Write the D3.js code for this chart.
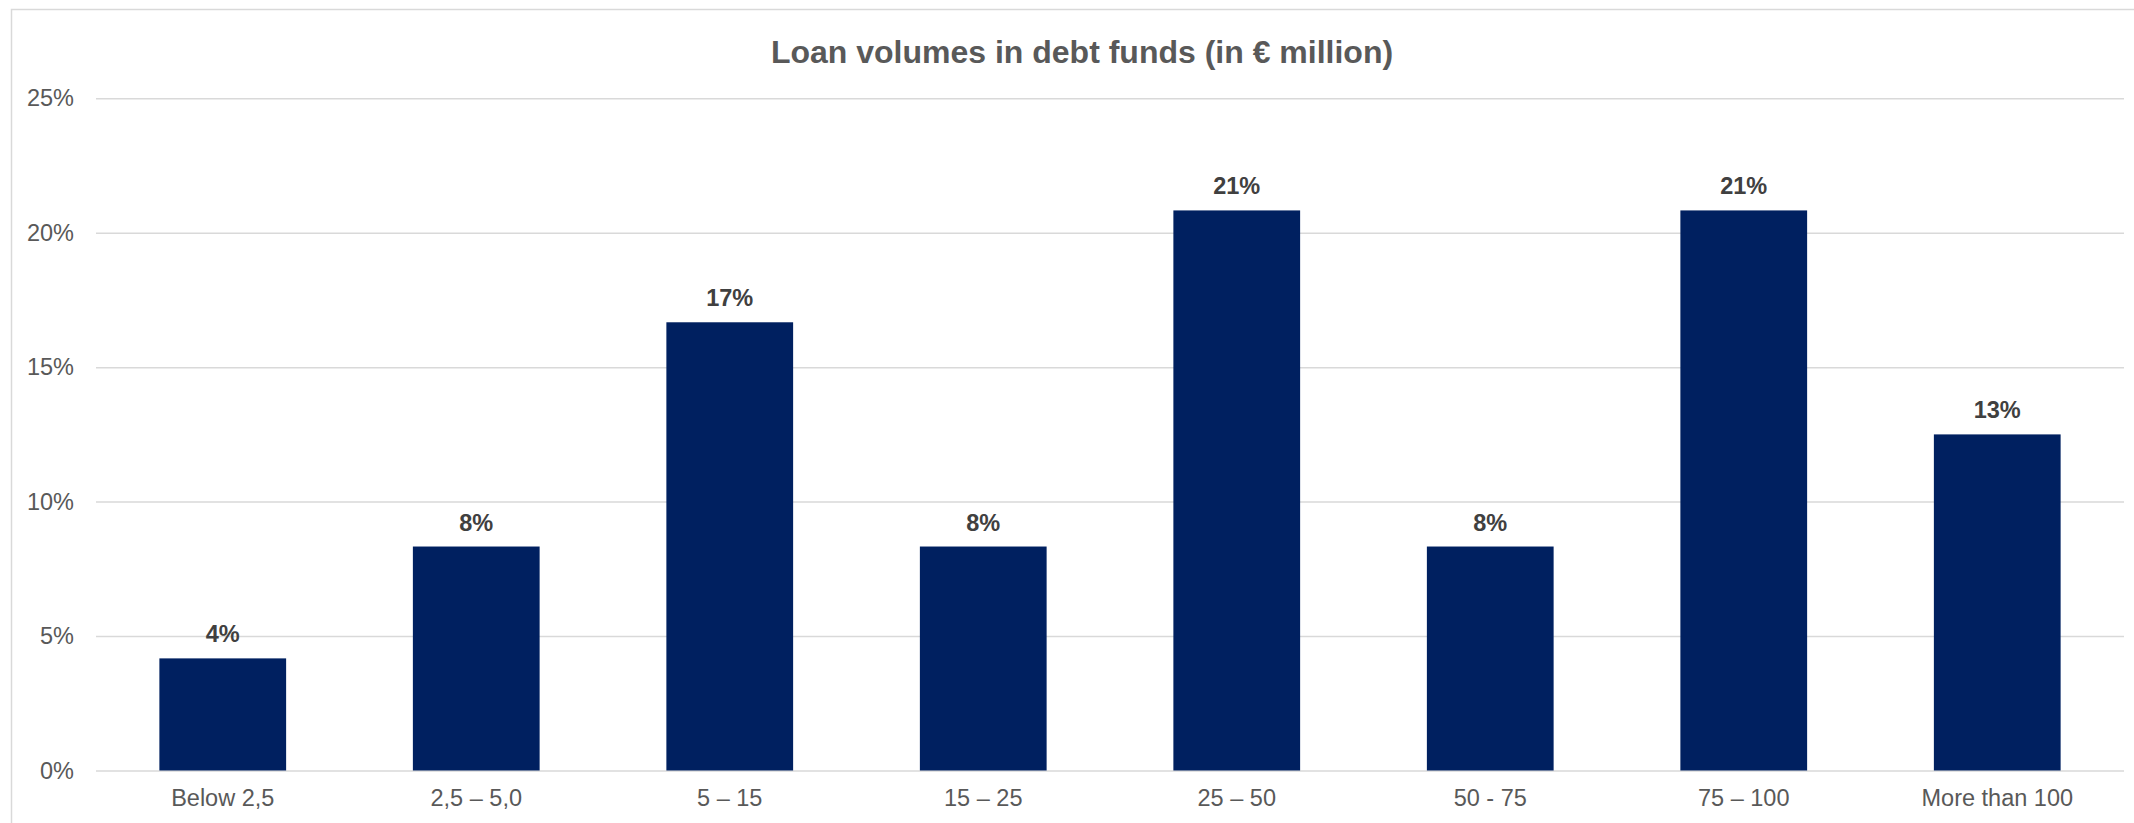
<!DOCTYPE html>
<html>
<head>
<meta charset="utf-8">
<script src="https://cdn.jsdelivr.net/npm/d3@7"></script>
<style>
  html, body { margin: 0; padding: 0; background: #ffffff; }
  svg { display: block; }
  text { font-family: "Liberation Sans", Arial, sans-serif; }
</style>
</head>
<body>
<svg id="chart" width="2134" height="823"></svg>
<script>
// Loan size buckets (€ million) and their share of loan volumes
const categories = ["Below 2,5", "2,5 – 5,0", "5 – 15", "15 – 25", "25 – 50", "50 - 75", "75 – 100", "More than 100"];
const shares = [0.0417, 0.0833, 0.1667, 0.0833, 0.2083, 0.0833, 0.2083, 0.125];
const yTicks = [0, 0.05, 0.10, 0.15, 0.20, 0.25];
const chartTitle = "Loan volumes in debt funds (in € million)";

const W = 2134, H = 823;
const margin = { left: 96, right: 2124, top: 98.3, bottom: 770.5 };

const svg = d3.select("#chart");

// outer chart frame
svg.append("rect")
  .attr("x", 11.5).attr("y", 9.5)
  .attr("width", W + 10).attr("height", H + 10)
  .attr("fill", "#ffffff")
  .attr("stroke", "#d9d9d9").attr("stroke-width", 1.5);

const x = d3.scaleBand()
  .domain(categories)
  .range([margin.left, margin.right])
  .paddingInner(0.5)
  .paddingOuter(0.25);

const y = d3.scaleLinear()
  .domain([0, 0.25])
  .range([margin.bottom, margin.top]);

// horizontal gridlines with percentage labels
const yAxis = d3.axisLeft(y)
  .tickValues(yTicks)
  .tickFormat(d3.format(".0%"))
  .tickSize(-(margin.right - margin.left))
  .tickPadding(22);

const gy = svg.append("g")
  .attr("transform", `translate(${margin.left},0)`)
  .call(yAxis);
gy.select(".domain").remove();
gy.selectAll(".tick line").attr("stroke", "#d9d9d9").attr("stroke-width", 1.5);
gy.selectAll(".tick text")
  .attr("fill", "#595959")
  .attr("font-size", "23.5px")
  .style("font-family", "'Liberation Sans', Arial, sans-serif");

// category labels below the baseline
const xAxis = d3.axisBottom(x).tickSize(0).tickPadding(19);
const gx = svg.append("g")
  .attr("transform", `translate(0,${margin.bottom})`)
  .call(xAxis);
gx.select(".domain").remove();
gx.selectAll(".tick text")
  .attr("fill", "#595959")
  .attr("font-size", "23.5px")
  .style("font-family", "'Liberation Sans', Arial, sans-serif");

// bars
svg.append("g")
  .selectAll("rect")
  .data(categories)
  .join("rect")
  .attr("x", d => x(d))
  .attr("width", x.bandwidth())
  .attr("y", (d, i) => y(shares[i]))
  .attr("height", (d, i) => y(0) - y(shares[i]))
  .attr("fill", "#002060");

// value labels above bars
svg.append("g")
  .selectAll("text")
  .data(categories)
  .join("text")
  .attr("x", d => x(d) + x.bandwidth() / 2)
  .attr("y", (d, i) => y(shares[i]) - 16)
  .attr("text-anchor", "middle")
  .attr("font-size", "23.5px")
  .attr("font-weight", "bold")
  .attr("fill", "#404040")
  .text((d, i) => d3.format(".0%")(shares[i]));

// title
svg.append("text")
  .attr("x", 1082)
  .attr("y", 63)
  .attr("text-anchor", "middle")
  .attr("font-size", "32px")
  .attr("font-weight", "bold")
  .attr("fill", "#595959")
  .text(chartTitle);
</script>
</body>
</html>
